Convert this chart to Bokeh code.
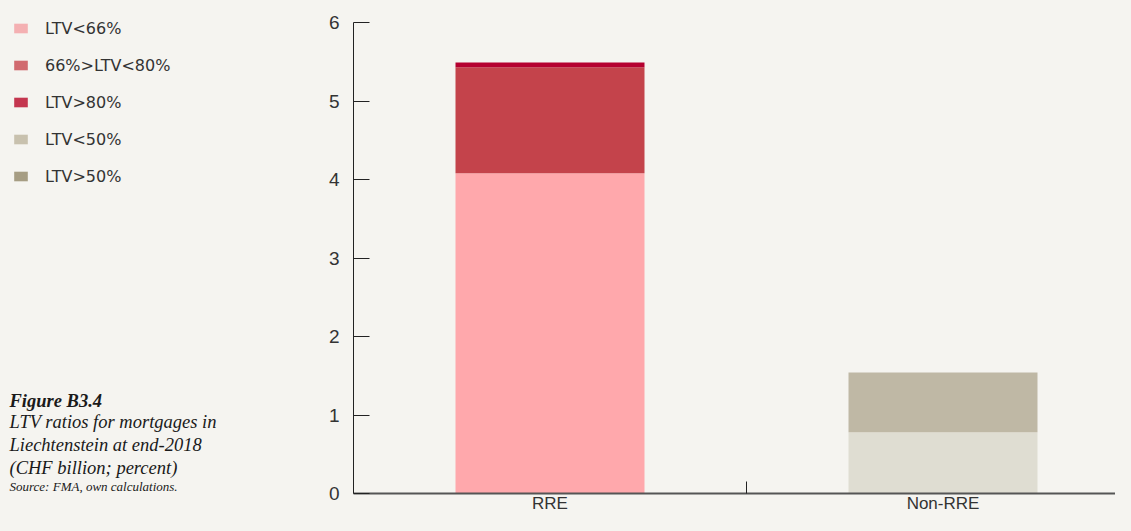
from bokeh.plotting import figure
from bokeh.layouts import row
from bokeh.models import (ColumnDataSource, Range1d, FixedTicker, Legend, LegendItem, Label)
from bokeh.embed import file_html
from bokeh.resources import INLINE

categories = ["RRE", "Non-RRE"]
cat_pos = [0.5, 1.5]
series = ["LTV<66%", "66%>LTV<80%", "LTV>80%", "LTV<50%", "LTV>50%"]
ltv_lt66 = [4.08, 0.0]
ltv_66_80 = [1.35, 0.0]
ltv_gt80 = [0.06, 0.0]
ltv_lt50 = [0.0, 0.78]
ltv_gt50 = [0.0, 0.76]
bar_colors = ["#ffa8ac", "#c4434b", "#b50030", "#dfddd2", "#bfb8a5"]
legend_colors = ["#f4b0b2", "#d16a6f", "#c4364f", "#c8c1ae", "#a69d83"]
y_ticks = [0, 1, 2, 3, 4, 5, 6]
caption_title = "Figure B3.4"
caption_lines = ["LTV ratios for mortgages in", "Liechtenstein at end-2018", "(CHF billion; percent)"]
caption_source = "Source: FMA, own calculations."

BG = "#f5f4f0"
SANS = "Liberation Sans"
LEG_FONT = "DejaVu Sans"
SERIF = "Liberation Serif"
H = 515
TOP = 18            # frame top (shared by both panels through row alignment)
BOTTOM = 493        # frame bottom = x axis line
PX_PER_UNIT = 78.5
FRAME_H = BOTTOM - TOP

# ---------- left panel: legend + caption ----------
left = figure(width=300, height=H, output_backend="svg", toolbar_location=None, title=None,
              x_range=Range1d(0, 1), y_range=Range1d(0, 1),
              x_axis_location=None, y_axis_location=None,
              min_border=0, background_fill_color=BG, border_fill_color=BG,
              outline_line_color=None)
left.grid.visible = False

items = []
for name, col in zip(series, legend_colors):
    r = left.vbar(x=[float("nan")], top=[float("nan")], width=1, fill_color=col, line_color=None)
    items.append(LegendItem(label=name, renderers=[r]))
LEG_H = 5 * 20 + 4 * 17
legend = Legend(items=items, location=(12, FRAME_H - LEG_H), orientation="vertical",
                glyph_width=17, glyph_height=12, label_height=20, spacing=17,
                label_standoff=16, padding=0, margin=0,
                label_text_font=LEG_FONT, label_text_font_size="16px", label_text_color="#333333",
                background_fill_alpha=0, border_line_color=None)
left.add_layout(legend, "center")

left.add_layout(Label(x=9, y=BOTTOM - 400, x_units="screen", y_units="screen", text=caption_title,
                      text_font=SERIF, text_font_size="18.5px", text_font_style="bold italic",
                      text_color="#1a1a1a", text_baseline="middle"))
for i, line in enumerate(caption_lines):
    left.add_layout(Label(x=9, y=BOTTOM - (421 + 23 * i), x_units="screen", y_units="screen", text=line,
                          text_font=SERIF, text_font_size="18.5px", text_font_style="italic",
                          text_color="#1a1a1a", text_baseline="middle"))
left.add_layout(Label(x=9, y=7, x_units="screen", y_units="screen", text=caption_source,
                      text_font=SERIF, text_font_size="13px", text_font_style="italic",
                      text_color="#1a1a1a", text_baseline="alphabetic"))

# ---------- chart ----------
src = ColumnDataSource(dict(x=cat_pos, s0=ltv_lt66, s1=ltv_66_80, s2=ltv_gt80, s3=ltv_lt50, s4=ltv_gt50))

p = figure(width=815, height=H, output_backend="svg", toolbar_location=None,
           x_range=Range1d(0, 762 / 393), y_range=Range1d(0, FRAME_H / PX_PER_UNIT),
           min_border_left=53, min_border_right=0, min_border_top=TOP, min_border_bottom=H - BOTTOM,
           background_fill_color=BG, border_fill_color=BG, outline_line_color=None)
p.vbar_stack(["s0", "s1", "s2", "s3", "s4"], x="x", width=189 / 393, source=src,
             color=bar_colors, line_width=0)

p.grid.visible = False

ya = p.yaxis[0]
ya.ticker = FixedTicker(ticks=y_ticks)
ya.bounds = (y_ticks[0], y_ticks[-1])
ya.major_tick_in = 16
ya.major_tick_out = 0
ya.minor_tick_line_color = None
ya.axis_line_color = "#222222"
ya.major_tick_line_color = "#222222"
ya.major_label_standoff = 14
ya.major_label_text_font = SANS
ya.major_label_text_font_size = "19px"
ya.major_label_text_color = "#333333"

xa = p.xaxis[0]
xa.ticker = FixedTicker(ticks=cat_pos, minor_ticks=[1.0])
xa.major_label_overrides = {cat_pos[i]: categories[i] for i in range(len(categories))}
xa.major_tick_line_color = None
xa.major_tick_in = 0
xa.major_tick_out = 0
xa.minor_tick_in = 12
xa.minor_tick_out = 0
xa.minor_tick_line_color = "#222222"
xa.axis_line_color = "#555555"
xa.axis_line_width = 2
xa.major_label_standoff = 0
xa.major_label_text_font = SANS
xa.major_label_text_font_size = "17px"
xa.major_label_text_color = "#333333"

layout = row(left, p, spacing=0)
html = file_html(layout, INLINE)
html = html.replace("</head>", "<style>html,body{background:#f5f4f0;}</style></head>", 1)
open("out.html", "w").write(html)
